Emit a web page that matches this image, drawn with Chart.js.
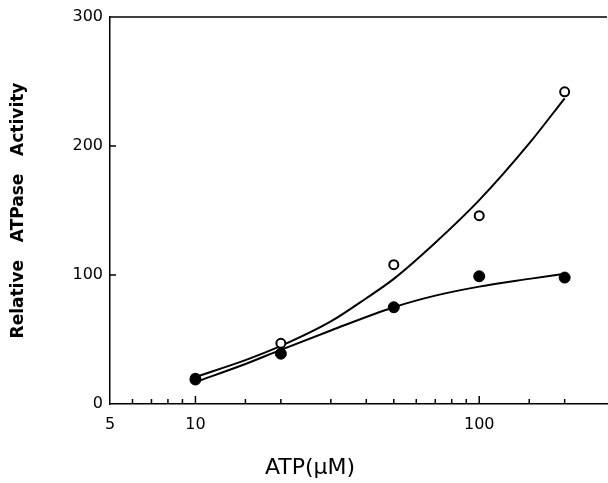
<!DOCTYPE html>
<html>
<head>
<meta charset="utf-8">
<script src="https://cdn.jsdelivr.net/npm/chart.js@4.4.1/dist/chart.umd.min.js"></script>
<style>
  html, body { margin: 0; padding: 0; background: #fff; }
  #wrap { width: 608px; height: 483px; }
</style>
</head>
<body>
<div id="wrap"><canvas id="chart" width="608" height="483"></canvas></div>
<script>
// measured points
const atp = [10, 20, 50, 100, 200];
const openVals = [20, 47, 108, 146, 242];
const filledVals = [19, 39, 75, 99, 98];

// fitted curves
const openCurveX = [10, 15, 20, 30, 40, 50, 70, 100, 150, 200];
const openCurveY = [21, 34, 45, 64, 82, 97, 125, 158, 202, 237];
const filledCurveX = [10, 15, 20, 30, 50, 70, 100, 150, 200];
const filledCurveY = [17, 31, 42, 57, 75, 84, 91, 97, 101];

const xLabels = [5, 10, 100];
const yTicks = [0, 100, 200, 300];
const xTitle = 'ATP(μM)';

const pts = (xs, ys) => xs.map((x, i) => ({ x: x, y: ys[i] }));

// inward tick marks, top frame line, x title (sits left of centre in the original)
const frame = {
  id: 'frame',
  afterDraw(chart) {
    const ctx = chart.ctx, a = chart.chartArea;
    const xs = chart.scales.x, ys = chart.scales.y;
    ctx.save();
    ctx.strokeStyle = '#000';
    ctx.lineWidth = 1.5;
    ctx.beginPath();
    ctx.moveTo(a.left, a.top);
    ctx.lineTo(a.right, a.top);
    xs.ticks.forEach(t => {
      if (t.value <= xs.min || t.value >= xs.max) return;
      const px = xs.getPixelForValue(t.value);
      const len = (t.value === 10 || t.value === 100) ? 8 : 5;
      ctx.moveTo(px, a.bottom);
      ctx.lineTo(px, a.bottom - len);
    });
    yTicks.forEach(v => {
      if (v === 0 || v === 300) return;
      const py = ys.getPixelForValue(v);
      ctx.moveTo(a.left, py);
      ctx.lineTo(a.left + 6, py);
    });
    ctx.stroke();

    ctx.fillStyle = '#000';
    ctx.font = '22px "DejaVu Sans"';
    ctx.textAlign = 'center';
    ctx.textBaseline = 'middle';
    ctx.fillText(xTitle, 310, 468);
    ctx.restore();
  }
};

new Chart(document.getElementById('chart'), {
  type: 'scatter',
  data: {
    datasets: [
      {
        label: 'filled',
        data: pts(atp, filledVals),
        pointRadius: 5.5,
        pointBackgroundColor: '#000',
        pointBorderColor: '#000',
        pointBorderWidth: 1,
        showLine: false
      },
      {
        label: 'open',
        data: pts(atp, openVals),
        pointRadius: 4.5,
        pointBackgroundColor: '#fff',
        pointBorderColor: '#000',
        pointBorderWidth: 2,
        showLine: false
      },
      {
        label: 'open fit',
        data: pts(openCurveX, openCurveY),
        showLine: true,
        pointRadius: 0,
        borderColor: '#000',
        borderWidth: 2,
        cubicInterpolationMode: 'monotone'
      },
      {
        label: 'filled fit',
        data: pts(filledCurveX, filledCurveY),
        showLine: true,
        pointRadius: 0,
        borderColor: '#000',
        borderWidth: 2,
        cubicInterpolationMode: 'monotone'
      }
    ]
  },
  options: {
    responsive: false,
    animation: false,
    layout: { autoPadding: false, padding: { top: 17, right: 1, left: 0, bottom: 0 } },
    plugins: { legend: { display: false }, tooltip: { enabled: false } },
    scales: {
      x: {
        type: 'logarithmic',
        min: 5,
        max: 282,
        grid: { display: false, drawTicks: false },
        border: { display: true, color: '#000', width: 1.5 },
        afterFit(s) { s.height = 79; s.paddingRight = 0; },
        ticks: {
          autoSkip: false,
          maxRotation: 0,
          padding: 11,
          color: '#000',
          font: { family: 'DejaVu Sans', size: 16 },
          callback: v => xLabels.includes(v) ? String(v) : ''
        }
      },
      y: {
        min: 0,
        max: 300,
        grid: { display: false, drawTicks: false },
        border: { display: true, color: '#000', width: 1.5 },
        afterFit(s) { s.width = 110; },
        afterBuildTicks(s) { s.ticks = yTicks.map(v => ({ value: v })); },
        ticks: {
          padding: 7,
          color: '#000',
          font: { family: 'DejaVu Sans', size: 16 }
        },
        title: {
          display: true,
          text: 'Relative   ATPase   Activity',
          color: '#000',
          font: { family: 'DejaVu Sans', size: 17, weight: 'bold' },
          padding: { top: 8, bottom: 0 }
        }
      }
    }
  },
  plugins: [frame]
});
</script>
</body>
</html>
